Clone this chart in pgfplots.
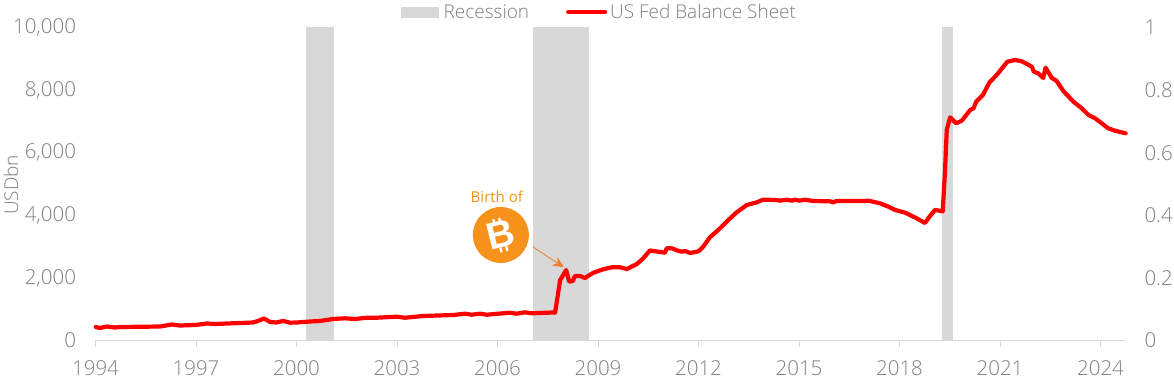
\documentclass[border=0pt]{standalone}
\usepackage{fontspec}
\setmainfont{Open Sans}[UprightFont=* Light,BoldFont=*]
\newfontfamily\regfont{Open Sans}
\newfontfamily\bfont{Liberation Sans}[BoldFont=* Bold]
\usepackage{pgfplots}
\usepackage{pgfplotstable}
\pgfplotsset{compat=1.18}
\usetikzlibrary{arrows.meta}
\definecolor{tickgray}{HTML}{808080}
\definecolor{axgray}{HTML}{D9D9D9}
\definecolor{recgray}{HTML}{D8D8D8}
\definecolor{btc}{HTML}{F7931A}
\definecolor{arrowor}{HTML}{ED7D31}
\pgfplotstableread{
year value
1994.01 415
1994.13 383
1994.34 431
1994.58 399
1994.73 415
1995.93 431
1996.28 495
1996.52 463
1996.97 479
1997.33 527
1997.57 511
1997.93 527
1998.31 543
1998.70 559
1998.85 607
1999.03 687
1999.21 575
1999.39 559
1999.60 607
1999.81 553
2000.01 559
2000.40 591
2000.70 607
2001.09 671
2001.45 693
2001.75 671
2002.10 712
2002.39 712
2002.99 744
2003.24 712
2003.78 767
2004.68 799
2005.03 840
2005.23 808
2005.48 840
2005.68 808
2006.37 872
2006.57 840
2006.82 885
2007.02 853
2007.66 879
2007.72 872
2007.87 1917
2008.05 2237
2008.14 1863
2008.25 1885
2008.31 2045
2008.46 2045
2008.61 1981
2008.86 2150
2009.16 2259
2009.41 2323
2009.66 2323
2009.86 2268
2010.16 2428
2010.35 2610
2010.55 2860
2011.00 2789
2011.05 2930
2011.20 2930
2011.35 2866
2011.50 2821
2011.60 2844
2011.75 2780
2012.00 2834
2012.14 2981
2012.34 3281
2012.59 3515
2012.89 3834
2013.14 4080
2013.44 4313
2013.74 4399
2013.93 4483
2014.33 4473
2014.43 4451
2014.63 4483
2014.78 4451
2014.88 4483
2015.01 4451
2015.18 4483
2015.42 4441
2015.92 4431
2016.02 4399
2016.12 4441
2016.97 4441
2017.07 4451
2017.42 4367
2017.67 4259
2017.87 4154
2018.17 4067
2018.51 3888
2018.76 3738
2018.91 3962
2019.06 4154
2019.29 4112
2019.36 5432
2019.41 6710
2019.51 7115
2019.69 6923
2019.86 7007
2020.11 7349
2020.21 7403
2020.29 7614
2020.49 7828
2020.68 8221
2020.90 8467
2021.22 8892
2021.45 8946
2021.65 8904
2021.95 8732
2022.01 8572
2022.14 8521
2022.29 8371
2022.36 8700
2022.54 8380
2022.69 8275
2022.89 7956
2023.19 7614
2023.44 7403
2023.64 7189
2023.84 7083
2024.23 6764
2024.43 6687
2024.75 6604
}\fedtable
\begin{document}
\begin{tikzpicture}
\path[use as bounding box] (-95.5pt,-38pt) rectangle (1078.5pt,340pt);
\begin{axis}[
  at={(0pt,0pt)}, anchor=south west,
  scale only axis, width=1030.5pt, height=313pt,
  xmin=1994, xmax=2024.76, ymin=0, ymax=10000,
  axis y line*=left, axis x line*=bottom,
  y axis line style={draw=none},
  x axis line style={draw=axgray,line width=0.8pt,-},
  xtick={1994,1997,...,2024},
  ytick={0,2000,...,10000},
  xticklabel style={/pgf/number format/1000 sep=,yshift=-10pt},
  yticklabel style={/pgf/number format/1000 sep={,},xshift=-16pt,yshift=-0.5pt},
  scaled y ticks=false,
  /pgf/number format/assume math mode=true,
  tick style={draw=axgray,line width=0.8pt},
  xtick align=outside, major tick length=7pt,
  ytick style={draw=none},
  ticklabel style={font=\fontsize{20.5}{24}\selectfont,text=tickgray},
  ylabel={USDbn},
  ylabel style={at={(axis description cs:0,0.5)},anchor=center,font=\fontsize{19}{22}\selectfont,text=tickgray,xshift=-1.5pt,yshift=84.5pt},
  clip=false,
  legend columns=4,
  legend style={at={(axis cs:2003.12,10000)},anchor=west,yshift=15pt,draw=none,fill=none,
    font=\fontsize{19}{22}\selectfont,text=tickgray,inner sep=0pt,
    nodes={inner sep=0pt},
    /tikz/column 1/.style={column sep=5pt},
    /tikz/column 2/.style={column sep=37pt},
    /tikz/column 3/.style={column sep=3pt}},
  legend cell align=left,
]
\addlegendimage{legend image code/.code={\fill[recgray] (0pt,-5pt) rectangle (37pt,5pt);}}
\addlegendentry{Recession}
\addlegendimage{legend image code/.code={\draw[red,line width=4pt,line cap=round] (2pt,0pt) -- (39pt,0pt);}}
\addlegendentry{US Fed Balance Sheet}
\addplot[fill=recgray,draw=none,forget plot] coordinates {(2000.28,0)(2000.28,10000)(2001.12,10000)(2001.12,0)} --cycle;
\addplot[fill=recgray,draw=none,forget plot] coordinates {(2007.06,0)(2007.06,10000)(2008.73,10000)(2008.73,0)} --cycle;
\addplot[fill=recgray,draw=none,forget plot] coordinates {(2019.26,0)(2019.26,10000)(2019.59,10000)(2019.59,0)} --cycle;
\addplot[red,line width=4.2pt,line join=round,line cap=round,forget plot] table[x=year,y=value] {\fedtable};
\coordinate (bc) at (axis cs:2006.10,3355);
\coordinate (bt) at (axis cs:2005.98,4569);
\coordinate (a1) at (axis cs:2007.05,2981);
\coordinate (a2) at (axis cs:2007.98,2323);
\end{axis}
\begin{axis}[
  at={(0pt,0pt)}, anchor=south west,
  scale only axis, width=1030.5pt, height=313pt,
  xmin=1994, xmax=2024.76, ymin=0, ymax=1,
  axis y line*=right, axis x line=none,
  y axis line style={draw=none},
  ytick={0,0.2,...,1.01},
  ytick style={draw=none},
  /pgf/number format/assume math mode=true,
  yticklabel style={font=\fontsize{20.5}{24}\selectfont,text=tickgray,anchor=west,xshift=15pt,yshift=-0.5pt},
]
\addplot[draw=none,forget plot] coordinates {(1994,0)(2024,1)};
\end{axis}
\node[circle,fill=btc,minimum size=56pt,inner sep=0pt] at (bc) {};
\node[rotate=14,text=white,font=\bfont\bfseries\fontsize{38}{38}\selectfont] at (bc) {B};
\begin{scope}[shift={(bc)},rotate=14,white,line width=2.4pt]
\draw (-3.5pt,12pt) -- (-3.5pt,17pt); \draw (2.5pt,12pt) -- (2.5pt,17pt);
\draw (-3.5pt,-12pt) -- (-3.5pt,-17pt); \draw (2.5pt,-12pt) -- (2.5pt,-17pt);
\end{scope}
\node[text=btc,font=\regfont\fontsize{15}{18}\selectfont] at (bt) {Birth of};
\draw[arrowor,line width=0.8pt,-{Stealth[length=11pt,width=10pt,fill=arrowor]}] (a1) -- (a2);
\end{tikzpicture}
\end{document}
